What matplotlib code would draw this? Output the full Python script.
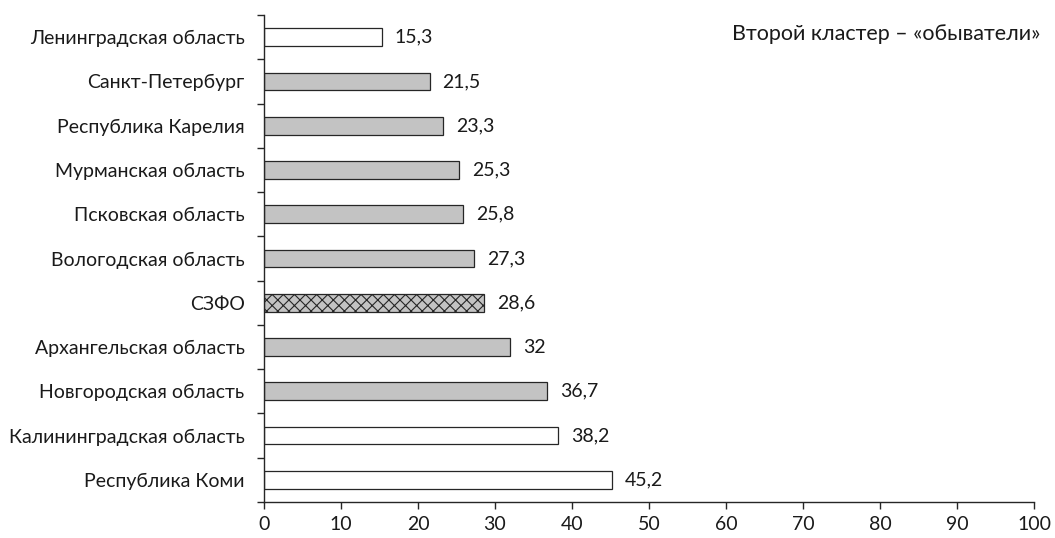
import matplotlib
matplotlib.use('Agg')
import matplotlib.pyplot as plt

# Data (top to bottom)
regions = ['Ленинградская область', 'Санкт-Петербург', 'Республика Карелия',
           'Мурманская область', 'Псковская область', 'Вологодская область',
           'СЗФО', 'Архангельская область', 'Новгородская область',
           'Калининградская область', 'Республика Коми']
values = [15.3, 21.5, 23.3, 25.3, 25.8, 27.3, 28.6, 32, 36.7, 38.2, 45.2]
kinds = ['white', 'grey', 'grey', 'grey', 'grey', 'grey', 'hatch',
         'grey', 'grey', 'white', 'white']
x_ticks = [0, 10, 20, 30, 40, 50, 60, 70, 80, 90, 100]

plt.rcParams['font.family'] = ['Lato', 'DejaVu Sans']
plt.rcParams['hatch.linewidth'] = 0.8
FS = 14

fig = plt.figure(figsize=(10.55, 5.38), dpi=100)
ax = fig.add_axes([264 / 1055, 36 / 538, 770 / 1055, 487 / 538])

n = len(regions)
ypos = list(range(n - 1, -1, -1))
for y, v, k in zip(ypos, values, kinds):
    if k == 'white':
        ax.barh(y, v, height=0.4, color='white', edgecolor='#262626', linewidth=0.9)
    elif k == 'grey':
        ax.barh(y, v, height=0.4, color='#c3c3c3', edgecolor='#262626', linewidth=0.9)
    else:
        ax.barh(y, v, height=0.4, color='#c3c3c3', edgecolor='#262626',
                linewidth=0.9, hatch='xxx')
    ax.text(v + 1.7, y, f'{v:g}'.replace('.', ','), va='center', ha='left',
            fontsize=FS, color='#1a1a1a')

ax.set_xlim(0, 100)
ax.set_ylim(-0.5, n - 0.5)
ax.set_xticks(x_ticks)
ax.set_xticklabels([str(t) for t in x_ticks], fontsize=FS, color='#1a1a1a')
ax.set_yticks(ypos)
ax.set_yticklabels(regions, fontsize=FS, color='#1a1a1a')
ax.tick_params(axis='y', length=0, pad=14)
ax.tick_params(axis='x', length=5, width=1, color='#262626', pad=5)
# category separators on the y axis
ax.set_yticks([i - 0.5 for i in range(n + 1)], minor=True)
ax.tick_params(axis='y', which='minor', length=5, width=1, color='#262626')

for s in ['top', 'right']:
    ax.spines[s].set_visible(False)
for s in ['left', 'bottom']:
    ax.spines[s].set_color('#262626')
    ax.spines[s].set_linewidth(1)

ax.text(1.008, 0.96, 'Второй кластер – «обыватели»', transform=ax.transAxes,
        ha='right', va='center', fontsize=15.5, color='#1a1a1a')

fig.savefig('out.png', dpi=100)
